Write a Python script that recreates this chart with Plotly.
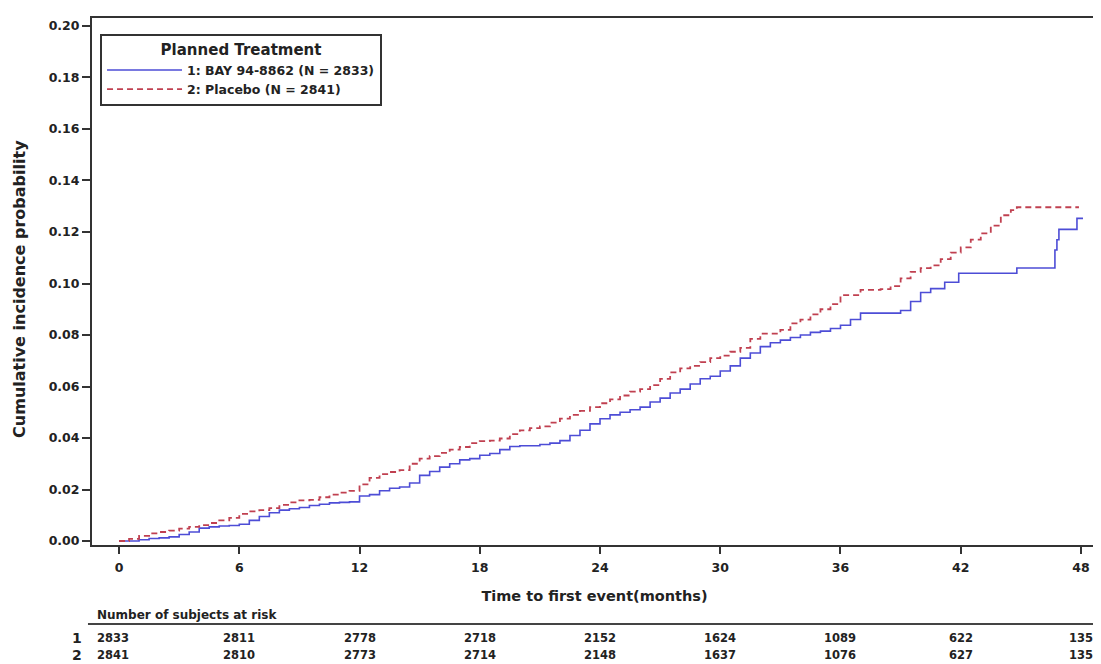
import plotly.graph_objects as go

# cumulative incidence (step curves)
bay_t = [0, 0.5, 1, 1.5, 2, 2.5, 3, 3.5, 4, 4.5, 5, 5.5, 6, 6.5, 7, 7.5, 8, 8.5, 9, 9.5,
         10, 10.5, 11, 11.5, 12, 12.5, 13, 13.5, 14, 14.5, 15, 15.5, 16, 16.5, 17, 17.5,
         18, 18.5, 19, 19.5, 20, 20.5, 21, 21.5, 22, 22.5, 23, 23.5, 24, 24.5, 25, 25.5,
         26, 26.5, 27, 27.5, 28, 28.5, 29, 29.5, 30, 30.5, 31, 31.5, 32, 32.5, 33, 33.5,
         34, 34.5, 35, 35.5, 36, 36.5, 37, 37.5, 38, 38.5, 39, 39.5, 40, 40.5, 41, 41.2,
         41.9, 44.8, 46.7, 46.8, 46.9, 47.8, 48.1]
bay_v = [0, 0, 0.0005, 0.001, 0.0012, 0.0016, 0.0025, 0.0035, 0.005, 0.0055, 0.0058, 0.006,
         0.0065, 0.008, 0.0095, 0.011, 0.012, 0.0125, 0.013, 0.0138, 0.0143, 0.0148, 0.015,
         0.0152, 0.0175, 0.018, 0.0195, 0.0205, 0.021, 0.0225, 0.0255, 0.027, 0.0287, 0.030,
         0.0315, 0.032, 0.0333, 0.034, 0.0355, 0.0367, 0.037, 0.037, 0.0375, 0.038, 0.039,
         0.041, 0.043, 0.0455, 0.0475, 0.049, 0.050, 0.051, 0.052, 0.054, 0.0555, 0.0575,
         0.059, 0.061, 0.063, 0.064, 0.066, 0.068, 0.071, 0.073, 0.0755, 0.077, 0.078, 0.079,
         0.080, 0.081, 0.0815, 0.0825, 0.0838, 0.086, 0.0885, 0.0885, 0.0885, 0.0885, 0.0895,
         0.093, 0.0965, 0.098, 0.098, 0.1005, 0.104, 0.106, 0.113, 0.117, 0.121, 0.1253, 0.1253]

pla_t = [0, 0.5, 1, 1.5, 2, 2.5, 3, 3.5, 4, 4.5, 5, 5.5, 6, 6.5, 7, 7.5, 8, 8.5, 9, 9.5,
         10, 10.5, 11, 11.5, 12, 12.5, 13, 13.5, 14, 14.5, 15, 15.5, 16, 16.5, 17, 17.5,
         18, 18.5, 19, 19.5, 20, 20.5, 21, 21.5, 22, 22.5, 23, 23.5, 24, 24.5, 25, 25.5,
         26, 26.5, 27, 27.5, 28, 28.5, 29, 29.5, 30, 30.5, 31, 31.5, 32, 32.5, 33, 33.5,
         34, 34.5, 35, 35.5, 36, 36.5, 37, 37.5, 38, 38.5, 39, 39.5, 40, 40.5, 41, 41.5,
         42, 42.5, 43, 43.5, 44, 44.5, 44.8, 47.9]
pla_v = [0, 0.0008, 0.002, 0.003, 0.0035, 0.004, 0.0048, 0.0055, 0.0062, 0.007, 0.008,
         0.009, 0.0105, 0.0115, 0.012, 0.0128, 0.014, 0.015, 0.0158, 0.016, 0.017, 0.018,
         0.0188, 0.0195, 0.022, 0.0245, 0.026, 0.0268, 0.0275, 0.030, 0.032, 0.033, 0.0342,
         0.0355, 0.0365, 0.038, 0.0388, 0.039, 0.0398, 0.0415, 0.043, 0.0438, 0.0445, 0.046,
         0.0475, 0.049, 0.0505, 0.052, 0.0535, 0.055, 0.0565, 0.058, 0.059, 0.0605, 0.063,
         0.0655, 0.067, 0.068, 0.0695, 0.071, 0.072, 0.0735, 0.075, 0.0785, 0.0805, 0.0805,
         0.082, 0.0845, 0.086, 0.088, 0.090, 0.092, 0.0955, 0.0955, 0.0975, 0.0975, 0.0978,
         0.099, 0.102, 0.1045, 0.106, 0.107, 0.1095, 0.112, 0.114, 0.117, 0.1195, 0.1225,
         0.1265, 0.1285, 0.1296, 0.1296]

risk_times = [0, 6, 12, 18, 24, 30, 36, 42, 48]
risk_bay = [2833, 2811, 2778, 2718, 2152, 1624, 1089, 622, 135]
risk_pla = [2841, 2810, 2773, 2714, 2148, 1637, 1076, 627, 135]

FONT = "DejaVu Sans"
DARK = "#222222"

fig = go.Figure()
fig.add_trace(go.Scatter(x=bay_t, y=bay_v, mode="lines", line_shape="hv",
                         name="1: BAY 94-8862 (N = 2833)",
                         line=dict(color="#4d4dd6", width=1.6)))
fig.add_trace(go.Scatter(x=pla_t, y=pla_v, mode="lines", line_shape="hv",
                         name="2: Placebo (N = 2841)",
                         line=dict(color="#c04050", width=1.8, dash="6px,4px")))

# number at risk table below the axis
row_y = [-0.1765, -0.2087]
for lab, counts, ry in [("1", risk_bay, row_y[0]), ("2", risk_pla, row_y[1])]:
    fig.add_annotation(x=-0.008, y=ry, xref="paper", yref="paper", text=f"<b>{lab}</b>",
                       showarrow=False, xanchor="right", yanchor="middle",
                       font=dict(family=FONT, size=14, color=DARK))
    for i, (t, n) in enumerate(zip(risk_times, counts)):
        fig.add_annotation(x=t, y=ry, xref="x", yref="paper", text=f"<b>{n}</b>",
                           showarrow=False, yanchor="middle",
                           xanchor="center" if 0 < i < len(counts) - 1 else ("left" if i == 0 else "right"),
                           xshift=-24 if i == 0 else (14 if i == len(counts) - 1 else 0),
                           font=dict(family=FONT, size=11.5, color=DARK))

fig.add_annotation(x=0.003, y=-0.133, xref="paper", yref="paper",
                   text="<b>Number of subjects at risk</b>", showarrow=False,
                   xanchor="left", yanchor="middle", font=dict(family=FONT, size=12, color=DARK))
fig.add_shape(type="line", xref="paper", yref="paper", x0=-0.004, x1=1.01,
              y0=-0.150, y1=-0.150, line=dict(color="#444444", width=2))

# y-axis title placed by hand (it sits a bit below the plot's centre in the reference)
fig.add_annotation(x=-0.0716, y=0.486, xref="paper", yref="paper", textangle=-90,
                   text="<b>Cumulative incidence probability</b>", showarrow=False,
                   xanchor="center", yanchor="middle", font=dict(family=FONT, size=16, color=DARK))

fig.update_layout(
    width=1093, height=656,
    margin=dict(l=84, r=4, t=10, b=119),
    plot_bgcolor="white", paper_bgcolor="white",
    font=dict(family=FONT, color=DARK),
    showlegend=True,
    legend=dict(
        x=0.008, y=0.97, xanchor="left", yanchor="top",
        bordercolor="#333333", borderwidth=2, bgcolor="white",
        title=dict(text="<b>Planned Treatment</b>", side="top center",
                   font=dict(family=FONT, size=15, color=DARK)),
        font=dict(family=FONT, size=12.5, color=DARK, weight="bold"),
        itemwidth=75, tracegroupgap=0,
    ),
    xaxis=dict(
        range=[-1.35, 48.8], tickvals=risk_times, ticks="outside", ticklen=7,
        tickwidth=1.5, tickcolor="#333333", automargin=False, ticklabelstandoff=3,
        showline=True, linecolor="#333333", linewidth=2, mirror=True,
        showgrid=False, zeroline=False,
        tickfont=dict(family=FONT, size=12.5, color=DARK, weight="bold"),
        title=dict(text="<b>Time to first event(months)</b>", standoff=17,
                   font=dict(family=FONT, size=14.5, color=DARK)),
    ),
    yaxis=dict(
        range=[-0.00155, 0.2031], tickvals=[0, 0.02, 0.04, 0.06, 0.08, 0.10, 0.12, 0.14, 0.16, 0.18, 0.20],
        tickformat=".2f", ticks="outside", ticklen=8, tickwidth=1.5, tickcolor="#333333",
        showline=True, linecolor="#333333", linewidth=2, mirror=True, automargin=False,
        showgrid=False, zeroline=False,
        tickfont=dict(family=FONT, size=12.5, color=DARK, weight="bold"),
    ),
)

fig.write_html("out.html")
